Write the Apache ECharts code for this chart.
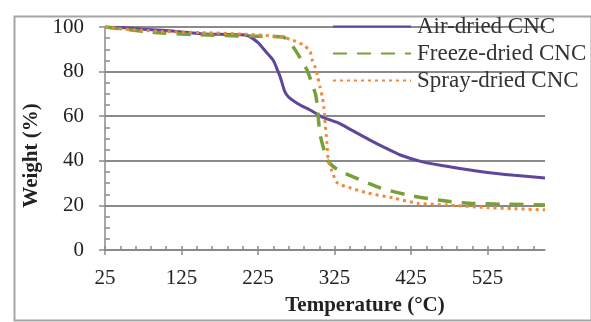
<!DOCTYPE html>
<html>
<head>
<meta charset="utf-8">
<script src="https://cdn.jsdelivr.net/npm/echarts@6/dist/echarts.min.js"></script>
<style>html,body{margin:0;padding:0;background:#fff}#c{width:591px;height:322px}</style>
</head>
<body>
<div id="c"></div>
<script>
var seriesNames = ['Air-dried CNC', 'Freeze-dried CNC', 'Spray-dried CNC'];
var xTickLabels = [25, 125, 225, 325, 425, 525];
var xMinorTicks = [25,45,65,85,105,125,145,165,185,205,225,245,265,285,305,325,345,365,385,405,425,445,465,485,505,525,545,565,585];

var airTemp   = [25, 50, 75, 100, 125, 150, 175, 200, 211, 225, 235, 245, 250, 254, 260, 265, 280, 293, 309, 330, 346, 370, 390, 411, 440, 477, 520, 560, 600];
var airWeight = [100, 99.7, 99, 98.5, 97.8, 97, 96.7, 96.5, 96.2, 93, 89, 85, 81, 77.6, 71, 68.6, 65, 62.8, 59.6, 57, 54, 49.5, 46, 42.6, 39.5, 37.2, 35, 33.5, 32.3];

var freezeTemp   = [25, 50, 75, 100, 150, 200, 240, 258, 271, 287, 291, 300, 302, 306, 312, 316, 325, 335, 350, 385, 420, 460, 500, 550, 600];
var freezeWeight = [100, 99, 98, 97.3, 96.5, 96, 95.8, 95.5, 91, 82, 79, 70, 66, 52, 44, 40, 37, 35, 32.7, 27.8, 24.7, 22.4, 21, 20.5, 20.2];

var sprayTemp   = [25, 50, 75, 100, 150, 206, 250, 267, 284, 293, 296, 300, 303, 306, 309, 311, 312, 315, 317, 322, 329, 346, 368, 402, 433, 472, 525, 560, 600];
var sprayWeight = [100, 99, 98.5, 98, 97.5, 96.8, 95.8, 94.5, 92, 89, 85, 81.6, 77.6, 73, 68.6, 64, 59.6, 48, 40, 35, 30, 27.8, 25.6, 23.3, 21, 20.2, 19, 18.5, 18];

function pairs(xs, ys) { return xs.map(function (x, i) { return [x, ys[i]]; }); }

var serif = '"Liberation Serif", "DejaVu Serif", serif';
var gray = '#8a8a8a';

var chart = echarts.init(document.getElementById('c'), null, {renderer: 'canvas'});
chart.setOption({
  animation: false,
  backgroundColor: '#fff',
  graphic: [{
    type: 'rect', left: 12, top: 14,
    shape: {width: 577, height: 304},
    style: {fill: 'none', stroke: '#a6a6a6', lineWidth: 2},
    silent: true
  }],
  grid: {left: 105, right: 46, top: 27, bottom: 72, containLabel: false},
  legend: {
    orient: 'vertical', left: 332, top: 15, padding: 0,
    itemWidth: 78, itemHeight: 14, itemGap: 4,
    data: seriesNames,
    itemStyle: {opacity: 0},
    textStyle: {fontFamily: serif, fontSize: 23, color: '#333', lineHeight: 23, padding: [0,0,0,1]}
  },
  xAxis: [{
    type: 'value', min: 25, max: 600,
    name: 'Temperature (°C)', nameLocation: 'middle', nameGap: 45,
    nameTextStyle: {fontFamily: serif, fontSize: 21, fontWeight: 'bold', color: '#222', padding: [0,0,0,80]},
    axisLine: {show: true, lineStyle: {color: gray, width: 1.5}},
    axisTick: {show: true, customValues: xTickLabels, length: 5, lineStyle: {color: gray, width: 1.5}},
    axisLabel: {customValues: xTickLabels, margin: 18, fontFamily: serif, fontSize: 21, color: '#222'},
    splitLine: {show: false}
  }, {
    type: 'value', min: 25, max: 600, position: 'bottom',
    axisLine: {show: false},
    axisTick: {show: true, inside: true, customValues: xMinorTicks, length: 4, lineStyle: {color: gray, width: 1.5}},
    axisLabel: {show: false},
    splitLine: {show: false}
  }],
  yAxis: [{
    type: 'value', min: 0, max: 100, interval: 20,
    name: 'Weight (%)', nameLocation: 'middle', nameGap: 56, nameRotate: 90,
    nameTextStyle: {fontFamily: serif, fontSize: 21, fontWeight: 'bold', color: '#222', padding: [0,34,0,0]},
    axisLine: {show: true, lineStyle: {color: gray, width: 1.5}},
    axisTick: {show: true, length: 6, lineStyle: {color: gray, width: 1.5}},
    axisLabel: {margin: 21, fontFamily: serif, fontSize: 21, color: '#222'},
    splitLine: {show: true, lineStyle: {color: gray, width: 2}}
  }, {
    type: 'value', min: 0, max: 100, interval: 5, position: 'left',
    axisLine: {show: false},
    axisTick: {show: true, inside: true, length: 5, lineStyle: {color: gray, width: 1.5}},
    axisLabel: {show: false},
    splitLine: {show: false}
  }],
  series: [{
    name: seriesNames[0], type: 'line', symbol: 'none', smooth: 0.25,
    xAxisIndex: 0, yAxisIndex: 0,
    data: pairs(airTemp, airWeight),
    lineStyle: {color: '#5e469c', width: 3},
    itemStyle: {color: '#5e469c'}, z: 3
  }, {
    name: seriesNames[1], type: 'line', symbol: 'none', smooth: 0.25,
    xAxisIndex: 0, yAxisIndex: 0,
    data: pairs(freezeTemp, freezeWeight),
    lineStyle: {color: '#77a038', width: 3.5, type: [14, 10]},
    itemStyle: {color: '#77a038'}, z: 4
  }, {
    name: seriesNames[2], type: 'line', symbol: 'none', smooth: 0.25,
    xAxisIndex: 0, yAxisIndex: 0,
    data: pairs(sprayTemp, sprayWeight),
    lineStyle: {color: '#f0893c', width: 3, type: [3, 4]},
    itemStyle: {color: '#f0893c'}, z: 5
  }]
});
</script>
</body>
</html>
